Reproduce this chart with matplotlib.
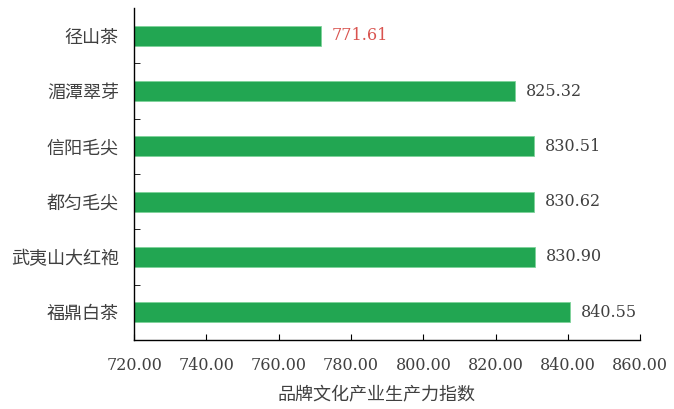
import matplotlib
matplotlib.use("Agg")
import matplotlib.pyplot as plt
from matplotlib.ticker import FormatStrFormatter

# data, top to bottom
brands = ["径山茶", "湄潭翠芽", "信阳毛尖", "都匀毛尖", "武夷山大红袍", "福鼎白茶"]
scores = [771.61, 825.32, 830.51, 830.62, 830.90, 840.55]
label_colors = ["#d9534f", "#404040", "#404040", "#404040", "#404040", "#404040"]

BAR = "#22a652"
TXT = "#404040"
CJK = ["Noto Sans CJK SC", "DejaVu Sans"]
NUM = ["DejaVu Serif"]

fig = plt.figure(figsize=(6.74, 4.09), dpi=100)
ax = fig.add_axes([0.199, 0.169, 0.751, 0.811])

ypos = list(range(len(brands)))[::-1]
ax.barh(ypos, [s - 720 for s in scores], left=720, height=0.36, color=BAR,
        edgecolor="#7fd39a", linewidth=0.6)
for y, s, c in zip(ypos, scores, label_colors):
    ax.annotate(f"{s:.2f}", (s, y), xytext=(8, 0), textcoords="offset points",
                va="center", ha="left", fontsize=11.5, color=c, family=NUM,
                fontweight="light")

ax.set_xlim(720, 860)
ax.set_ylim(-0.5, len(brands) - 0.5)
ax.set_xticks(range(720, 861, 20))
ax.xaxis.set_major_formatter(FormatStrFormatter("%.2f"))
for t in ax.get_xticklabels():
    t.set_family(NUM)
ax.tick_params(axis="x", direction="in", length=4, labelsize=11.5, labelcolor=TXT, pad=12)

# category labels centred, ticks at category boundaries
ax.set_yticks(ypos)
ax.set_yticklabels(brands, family=CJK, fontsize=13, color=TXT)
ax.tick_params(axis="y", which="major", length=0, pad=11)
ax.set_yticks([y + 0.5 for y in range(len(brands) - 1)], minor=True)
ax.tick_params(axis="y", which="minor", direction="in", length=4)

for side in ("top", "right"):
    ax.spines[side].set_visible(False)
for side in ("left", "bottom"):
    ax.spines[side].set_color("black")
    ax.spines[side].set_linewidth(1.0)

ax.set_xlabel("品牌文化产业生产力指数", family=CJK, fontsize=13, color=TXT)
ax.xaxis.set_label_coords(0.478, -0.137)

fig.savefig("out.png", dpi=100)
